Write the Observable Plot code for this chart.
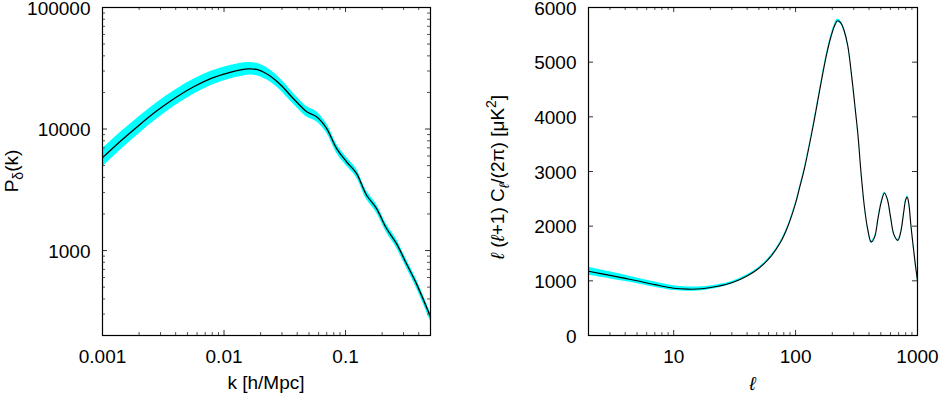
<!DOCTYPE html>
<html>
<head>
<meta charset="utf-8">
<script src="https://cdn.jsdelivr.net/npm/d3@7"></script>
<script src="https://cdn.jsdelivr.net/npm/@observablehq/plot@0.6"></script>
<style>
  body { margin: 0; background: #fff; }
  #wrap { position: relative; width: 941px; height: 396px; font-family: "Liberation Sans", Arial, sans-serif; }
  #left { position: absolute; left: 0; top: 0; }
  #right { position: absolute; left: 470px; top: 0; }
  svg { overflow: visible; }
</style>
</head>
<body>
<div id="wrap"><div id="left"></div><div id="right"></div></div>
<script>
// ---------- Left panel: matter power spectrum ----------
const kVals  = [0.001, 0.00141, 0.002, 0.00282, 0.00398, 0.00562, 0.00794, 0.01122, 0.01585, 0.0186, 0.0224, 0.0255, 0.0302, 0.0349, 0.0407, 0.0479, 0.0578, 0.0698, 0.0843, 0.1019, 0.123, 0.1486, 0.1795, 0.217, 0.262, 0.316, 0.382, 0.5];
const pkVals = [5794, 7962, 10765, 14191, 18113, 22284, 26242, 29309, 31261, 30900, 28500, 26100, 22400, 19050, 16200, 13870, 12620, 10130, 6930, 5380, 4310, 2866, 2222, 1525, 1145, 785, 537, 285];
const pkErrDex = [0.076, 0.073, 0.07, 0.067, 0.064, 0.061, 0.058, 0.055, 0.052, 0.051, 0.05, 0.049, 0.047, 0.046, 0.044, 0.043, 0.041, 0.039, 0.037, 0.036, 0.035, 0.035, 0.035, 0.035, 0.035, 0.035, 0.035, 0.035];
const kTickLabels = [0.001, 0.01, 0.1];
const pTickLabels = [1000, 10000, 100000];

// ---------- Right panel: CMB TT spectrum ----------
const ellVals = [2, 3, 4, 5, 7, 10, 13, 17, 23, 30, 40, 50, 62, 75, 86, 100, 108, 118, 140, 161, 180, 195, 210, 221, 235, 250, 268, 290, 310, 324, 345, 367, 390, 417, 445, 475, 505, 536, 565, 600, 640, 690, 730, 770, 800, 824, 850, 880, 920, 960, 1000];
const clVals  = [1175, 1100, 1045, 1000, 930, 865, 848, 855, 900, 965, 1090, 1230, 1434, 1700, 1984, 2420, 2710, 3050, 3860, 4600, 5150, 5465, 5680, 5758, 5720, 5580, 5300, 4700, 4100, 3695, 2950, 2351, 1950, 1709, 1800, 2150, 2450, 2607, 2500, 2180, 1850, 1740, 1900, 2250, 2480, 2534, 2400, 2050, 1650, 1300, 1008];
const clErr   = [75, 65, 58, 52, 48, 43, 40, 35, 30, 25, 22, 20, 18, 18, 18, 20, 21, 22, 25, 28, 30, 30, 30, 30, 30, 28, 25, 22, 20, 18, 18, 18, 18, 18, 18, 18, 18, 20, 18, 18, 18, 18, 18, 18, 20, 20, 18, 18, 18, 18, 18];
const ellTickLabels = [10, 100, 1000];
const clTickLabels = [0, 1000, 2000, 3000, 4000, 5000, 6000];

const FONT = '"Liberation Sans", Arial, Helvetica, sans-serif';
const FS = 19;
const H = 396, mT = 7, mB = 61;
const plotH = H - mT - mB;

function logMinor(lo, hi) {
  const out = [];
  for (let e = Math.floor(Math.log10(lo)); e <= Math.ceil(Math.log10(hi)); e++) {
    for (let m = 2; m <= 9; m++) {
      const v = m * Math.pow(10, e);
      if (v > lo * 1.0001 && v < hi * 0.9999) out.push(v);
    }
  }
  return out;
}

function tickMarks(xs, ys, len, plotW, stroke) {
  return [
    Plot.ruleX(xs, {insetTop: plotH - len, stroke, strokeWidth: 1}),
    Plot.ruleX(xs, {insetBottom: plotH - len, stroke, strokeWidth: 1}),
    Plot.ruleY(ys, {insetRight: plotW - len, stroke, strokeWidth: 1}),
    Plot.ruleY(ys, {insetLeft: plotW - len, stroke, strokeWidth: 1})
  ];
}

// Left
const pkRows = kVals.map((k, i) => ({k, p: pkVals[i], lo: pkVals[i] / Math.pow(10, pkErrDex[i]), hi: pkVals[i] * Math.pow(10, pkErrDex[i])}));
const W1 = 470, mL1 = 102, mR1 = 40, plotW1 = W1 - mL1 - mR1;
const kDomain = [0.001, 0.5], pDomain = [200, 100000];

const leftSvg = Plot.plot({
  width: W1, height: H, marginLeft: mL1, marginRight: mR1, marginTop: mT, marginBottom: mB,
  style: {fontFamily: FONT, fontSize: FS + "px", color: "black", background: "transparent", overflow: "visible"},
  x: {type: "log", domain: kDomain, axis: null},
  y: {type: "log", domain: pDomain, axis: null},
  marks: [
    Plot.areaY(pkRows, {x: "k", y1: "lo", y2: "hi", fill: "#00ffff", curve: "catmull-rom"}),
    Plot.line(pkRows, {x: "k", y: "p", stroke: "black", strokeWidth: 1.3, curve: "catmull-rom"}),
    ...tickMarks(kTickLabels, pTickLabels, 5, plotW1, "#333"),
    ...tickMarks(logMinor(kDomain[0], kDomain[1]), logMinor(pDomain[0], pDomain[1]), 3, plotW1, "#555"),
    Plot.frame({stroke: "black", strokeWidth: 1.2}),
    Plot.axisX(kTickLabels, {tickSize: 0, tickPadding: 14, fontSize: FS, tickFormat: d => String(d), label: null}),
    Plot.axisY(pTickLabels, {tickSize: 0, tickPadding: 12, fontSize: FS, dy: 1, tickFormat: d => String(d), label: null})
  ]
});
document.getElementById("left").appendChild(leftSvg);

d3.select(leftSvg).append("text")
  .attr("transform", "translate(17.5," + (mT + plotH / 2) + ") rotate(-90)")
  .attr("text-anchor", "middle").attr("font-size", FS).attr("font-family", FONT).attr("fill", "black")
  .html('P<tspan dy="5" font-size="14">δ</tspan><tspan dy="-5">(k)</tspan>');
d3.select(leftSvg).append("text")
  .attr("x", mL1 + plotW1 / 2).attr("y", 389)
  .attr("text-anchor", "middle").attr("font-size", FS).attr("font-family", FONT).attr("fill", "black")
  .text("k [h/Mpc]");

// Right
const clRows = ellVals.map((l, i) => ({l, c: clVals[i], lo: clVals[i] - clErr[i], hi: clVals[i] + clErr[i]}));
const W2 = 471, mL2 = 118, mR2 = 24, plotW2 = W2 - mL2 - mR2;
const lDomain = [2, 1000];

const rightSvg = Plot.plot({
  width: W2, height: H, marginLeft: mL2, marginRight: mR2, marginTop: mT, marginBottom: mB,
  style: {fontFamily: FONT, fontSize: FS + "px", color: "black", background: "transparent", overflow: "visible"},
  x: {type: "log", domain: lDomain, axis: null},
  y: {type: "linear", domain: [0, 6000], axis: null},
  marks: [
    Plot.areaY(clRows, {x: "l", y1: "lo", y2: "hi", fill: "#00ffff", curve: "catmull-rom"}),
    Plot.line(clRows, {x: "l", y: "c", stroke: "black", strokeWidth: 1.1, curve: "catmull-rom"}),
    ...tickMarks(ellTickLabels, clTickLabels, 5, plotW2, "#333"),
    ...tickMarks(logMinor(lDomain[0], lDomain[1]), [], 3, plotW2, "#555"),
    Plot.frame({stroke: "black", strokeWidth: 1.2}),
    Plot.axisX(ellTickLabels, {tickSize: 0, tickPadding: 14, fontSize: FS, tickFormat: d => String(d), label: null}),
    Plot.axisY(clTickLabels, {tickSize: 0, tickPadding: 12, fontSize: FS, dy: 1, tickFormat: d => String(d), label: null})
  ]
});
document.getElementById("right").appendChild(rightSvg);

d3.select(rightSvg).append("text")
  .attr("transform", "translate(34,177) rotate(-90)")
  .attr("text-anchor", "middle").attr("font-size", FS).attr("font-family", FONT).attr("fill", "black")
  .html('<tspan font-style="italic">ℓ</tspan> (<tspan font-style="italic">ℓ</tspan>+1) C<tspan dy="5" font-size="14" font-style="italic">ℓ</tspan><tspan dy="-5">/(2π) [μK</tspan><tspan dy="-8" font-size="14">2</tspan><tspan dy="8">]</tspan>');
d3.select(rightSvg).append("text")
  .attr("x", mL2 + plotW2 / 2).attr("y", 390)
  .attr("text-anchor", "middle").attr("font-size", FS).attr("font-family", FONT).attr("font-style", "italic").attr("fill", "black")
  .text("ℓ");
</script>
</body>
</html>
